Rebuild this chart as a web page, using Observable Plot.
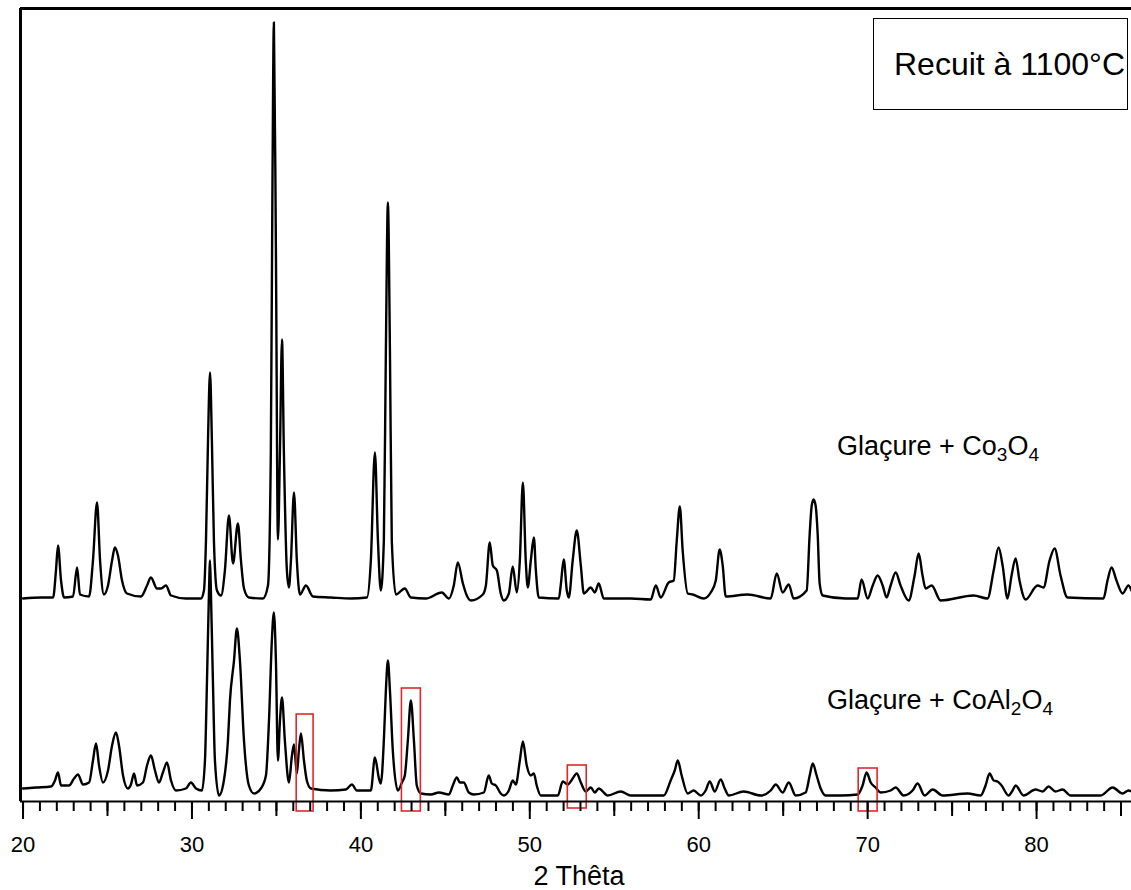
<!DOCTYPE html>
<html>
<head>
<meta charset="utf-8">
<script src="https://cdn.jsdelivr.net/npm/d3@7"></script>
<script src="https://cdn.jsdelivr.net/npm/@observablehq/plot@0.6"></script>
<style>
  html, body { margin: 0; padding: 0; background: #fff; }
  #wrap { position: relative; width: 1131px; height: 890px; overflow: hidden; font-family: "Liberation Sans", Arial, sans-serif; }
  .lbl { position: absolute; font-size: 27px; line-height: 27px; white-space: nowrap; color: #000; }
  .lbl .s { font-size: 19px; position: relative; top: 6px; }
  #box { position: absolute; left: 873px; top: 18px; width: 251px; height: 90px; border: 1.5px solid #000;
         display: flex; align-items: center; justify-content: flex-end; padding-right: 2px; box-sizing: content-box;
         font-size: 32px; color: #000; white-space: nowrap; }
</style>
</head>
<body>
<div id="wrap">
  <div id="chart"></div>
  <div id="box"><span>Recuit à 1100°C</span></div>
  <div class="lbl" style="left:837px; top:433px;">Glaçure + Co<span class="s">3</span>O<span class="s">4</span></div>
  <div class="lbl" style="left:827px; top:687px;">Glaçure + CoAl<span class="s">2</span>O<span class="s">4</span></div>
</div>
<script>
// ---- Data (2θ in degrees, intensity in arbitrary units) ----
const twoThetaCo3O4 = [20.0, 21.07, 21.78, 21.95, 22.07, 22.25, 22.43, 22.96, 23.2, 23.37, 23.91, 24.14, 24.38, 24.56, 24.79, 25.03, 25.27, 25.44, 25.62, 25.86, 26.15, 26.98, 27.34, 27.57, 27.93, 28.17, 28.46, 28.76, 29.64, 30.53, 30.71, 30.83, 30.95, 31.07, 31.18, 31.3, 31.48, 31.72, 31.95, 32.19, 32.43, 32.72, 32.9, 33.08, 33.37, 34.2, 34.5, 34.67, 34.76, 34.85, 34.97, 35.09, 35.21, 35.33, 35.44, 35.62, 35.74, 35.86, 36.04, 36.21, 36.39, 36.75, 37.16, 38.22, 39.41, 40.36, 40.59, 40.83, 41.01, 41.18, 41.36, 41.48, 41.6, 41.72, 41.83, 42.07, 42.6, 42.96, 43.85, 44.79, 45.21, 45.5, 45.74, 46.04, 46.27, 46.51, 47.22, 47.4, 47.63, 47.81, 48.05, 48.28, 48.46, 48.76, 48.99, 49.23, 49.41, 49.59, 49.76, 49.88, 50.06, 50.24, 50.36, 50.53, 51.72, 51.83, 52.01, 52.19, 52.31, 52.54, 52.78, 53.02, 53.2, 53.61, 53.85, 54.08, 54.38, 55.98, 57.16, 57.46, 57.75, 58.22, 58.52, 58.7, 58.88, 59.05, 59.35, 59.64, 60.3, 60.71, 61.01, 61.24, 61.42, 61.6, 62.9, 64.26, 64.62, 64.97, 65.33, 65.62, 66.39, 66.57, 66.69, 66.8, 66.92, 67.04, 67.16, 67.34, 68.7, 69.41, 69.64, 70.0, 70.3, 70.59, 70.89, 71.12, 71.36, 71.66, 71.95, 72.43, 72.78, 73.02, 73.25, 73.43, 73.79, 74.32, 76.27, 77.1, 77.46, 77.75, 77.99, 78.28, 78.52, 78.76, 78.99, 79.35, 80.06, 80.41, 80.77, 81.07, 81.42, 81.83, 83.96, 84.2, 84.44, 84.73, 85.09, 85.44, 85.62];
const intensityCo3O4 = [203, 204, 204, 231, 256, 221, 204, 205, 234, 207, 205, 241, 299, 241, 207, 216, 241, 254, 246, 221, 208, 205, 216, 224, 213, 213, 216, 206, 203, 203, 211, 261, 361, 429, 361, 261, 211, 206, 231, 286, 238, 278, 241, 213, 204, 203, 216, 351, 601, 779, 551, 262, 351, 462, 351, 231, 214, 241, 309, 241, 207, 216, 205, 204, 203, 204, 241, 349, 261, 211, 261, 451, 599, 451, 261, 207, 213, 204, 203, 209, 203, 216, 239, 218, 206, 201, 207, 216, 259, 236, 231, 208, 201, 208, 235, 209, 241, 319, 241, 214, 241, 264, 231, 204, 203, 216, 242, 211, 204, 241, 271, 236, 208, 214, 209, 218, 203, 203, 202, 216, 204, 219, 221, 261, 295, 251, 208, 207, 203, 209, 221, 252, 236, 205, 207, 203, 228, 209, 217, 203, 211, 268, 296, 302, 296, 268, 218, 206, 203, 203, 222, 203, 216, 226, 216, 204, 216, 229, 216, 201, 226, 248, 226, 213, 216, 201, 206, 203, 231, 254, 236, 203, 226, 243, 221, 202, 216, 214, 241, 253, 226, 204, 203, 221, 234, 221, 208, 216, 211];

const twoThetaCoAl2O4 = [20.0, 20.77, 21.66, 21.89, 22.07, 22.25, 22.72, 23.02, 23.25, 23.55, 23.91, 24.14, 24.32, 24.5, 24.73, 25.03, 25.27, 25.5, 25.68, 25.92, 26.21, 26.39, 26.57, 26.75, 27.1, 27.34, 27.57, 27.81, 28.05, 28.28, 28.52, 28.76, 29.05, 29.64, 29.94, 30.24, 30.59, 30.77, 30.89, 31.01, 31.07, 31.12, 31.24, 31.36, 31.6, 31.89, 32.13, 32.25, 32.49, 32.66, 32.84, 33.08, 33.37, 33.67, 34.08, 34.38, 34.56, 34.73, 34.85, 34.97, 35.09, 35.21, 35.33, 35.5, 35.74, 35.92, 36.04, 36.21, 36.33, 36.45, 36.63, 36.8, 37.04, 38.22, 39.11, 39.47, 39.76, 40.59, 40.83, 41.07, 41.18, 41.36, 41.48, 41.6, 41.72, 41.89, 42.19, 42.43, 42.6, 42.78, 42.96, 43.14, 43.31, 43.55, 44.14, 44.62, 45.21, 45.44, 45.68, 45.86, 46.09, 46.39, 46.69, 47.28, 47.57, 47.75, 47.99, 48.28, 48.46, 48.76, 48.99, 49.17, 49.41, 49.59, 49.82, 50.06, 50.24, 50.41, 50.65, 51.66, 51.95, 52.25, 52.54, 52.78, 53.02, 53.31, 53.61, 53.85, 54.08, 54.62, 55.38, 55.98, 57.16, 57.93, 58.34, 58.58, 58.76, 58.99, 59.35, 59.7, 60.12, 60.41, 60.65, 60.95, 61.3, 61.54, 61.78, 62.66, 63.67, 64.26, 64.56, 64.97, 65.33, 65.74, 66.33, 66.57, 66.75, 66.98, 67.22, 67.51, 68.4, 69.41, 69.7, 69.94, 70.18, 70.47, 70.77, 71.36, 71.66, 72.13, 72.66, 72.96, 73.37, 73.85, 74.44, 75.92, 76.69, 76.98, 77.22, 77.46, 77.69, 77.93, 78.34, 78.58, 78.76, 79.23, 79.94, 80.36, 80.71, 81.12, 81.54, 82.01, 83.79, 84.5, 85.09, 85.44, 85.62];
const intensityCoAl2O4 = [13, 14, 15, 21, 29, 16, 16, 23, 27, 17, 19, 41, 58, 36, 19, 31, 56, 69, 56, 26, 13, 17, 28, 16, 19, 36, 46, 31, 19, 29, 39, 21, 11, 13, 19, 13, 11, 41, 121, 211, 241, 211, 121, 41, 6, 21, 61, 101, 141, 173, 141, 61, 16, 8, 13, 26, 81, 161, 189, 141, 41, 81, 104, 61, 19, 46, 57, 28, 51, 68, 41, 21, 13, 11, 12, 17, 11, 11, 44, 23, 18, 61, 111, 141, 111, 51, 11, 19, 26, 61, 101, 61, 16, 8, 7, 9, 7, 16, 24, 19, 19, 9, 7, 9, 26, 18, 16, 8, 6, 11, 21, 17, 41, 60, 36, 26, 28, 16, 6, 6, 20, 17, 23, 28, 19, 10, 14, 9, 13, 6, 10, 6, 6, 6, 21, 31, 41, 26, 8, 11, 6, 11, 20, 10, 22, 13, 6, 10, 6, 11, 17, 9, 19, 6, 9, 26, 38, 26, 13, 6, 6, 7, 16, 29, 19, 14, 9, 11, 14, 6, 11, 18, 6, 12, 6, 8, 6, 16, 28, 21, 20, 16, 6, 11, 16, 6, 12, 10, 15, 10, 12, 6, 6, 14, 8, 11, 10];

// Highlighted CoAl2O4 reflections (red boxes)
const boxX1 = [36.2, 42.43, 52.25, 69.47];
const boxX2 = [37.2, 43.55, 53.37, 70.59];
const boxTop = [87, 113, 36, 33];
const boxBottom = [-10, -10, -7, -10];

// Axis
const xDomain = [19.85, 85.62];
const yDomain = [0, 793];
const majorTicks = [20, 30, 40, 50, 60, 70, 80];
const majorTickLabels = ["20", "30", "40", "50", "60", "70", "80"];
const midTicks = [25, 35, 45, 55, 65, 75, 85];
const minorTicks = d3.range(20, 86, 1);
const xLabel = "2 Thêta";

// ---- Build tables ----
const co3o4 = twoThetaCo3O4.map((x, i) => ({x, y: intensityCo3O4[i]}));
const coal2o4 = twoThetaCoAl2O4.map((x, i) => ({x, y: intensityCoAl2O4[i]}));
const boxes = boxX1.map((x1, i) => ({x1, x2: boxX2[i], y1: boxBottom[i], y2: boxTop[i]}));
const tickLabels = majorTicks.map((x, i) => ({x, label: majorTickLabels[i]}));

const chart = Plot.plot({
  width: 1131,
  height: 890,
  marginLeft: 20,
  marginRight: 0,
  marginTop: 8,
  marginBottom: 89,
  style: {fontFamily: '"Liberation Sans", Arial, sans-serif', fontSize: "22px", background: "#fff", color: "#000"},
  x: {domain: xDomain, axis: null},
  y: {domain: yDomain, axis: null},
  marks: [
    Plot.line(coal2o4, {x: "x", y: "y", stroke: "#000", strokeWidth: 2.4, strokeLinejoin: "round", curve: "monotone-x"}),
    Plot.line(co3o4, {x: "x", y: "y", stroke: "#000", strokeWidth: 2.4, strokeLinejoin: "round", curve: "monotone-x"}),
    Plot.rect(boxes, {x1: "x1", x2: "x2", y1: "y1", y2: "y2", fill: "none", stroke: "#e3262b", strokeWidth: 1.6}),
    Plot.ruleY([yDomain[0]], {stroke: "#000", strokeWidth: 2}),
    Plot.ruleY([yDomain[1]], {stroke: "#000", strokeWidth: 3}),
    Plot.ruleX([xDomain[0]], {stroke: "#000", strokeWidth: 3}),
    Plot.axisX({ticks: minorTicks, tickSize: 10, tickFormat: () => "", label: null, strokeWidth: 2}),
    Plot.axisX({ticks: midTicks, tickSize: 15, tickFormat: () => "", label: null, strokeWidth: 2}),
    Plot.axisX({ticks: majorTicks, tickSize: 18, tickFormat: () => "", label: null, strokeWidth: 2}),
    Plot.text(tickLabels, {x: "x", text: "label", frameAnchor: "bottom", lineAnchor: "middle", dy: 43, fontSize: 22, fill: "#000"}),
    Plot.text([xLabel], {frameAnchor: "bottom", lineAnchor: "middle", dx: 3, dy: 75, fontSize: 27, fill: "#000"})
  ]
});
document.getElementById("chart").appendChild(chart);
</script>
</body>
</html>
